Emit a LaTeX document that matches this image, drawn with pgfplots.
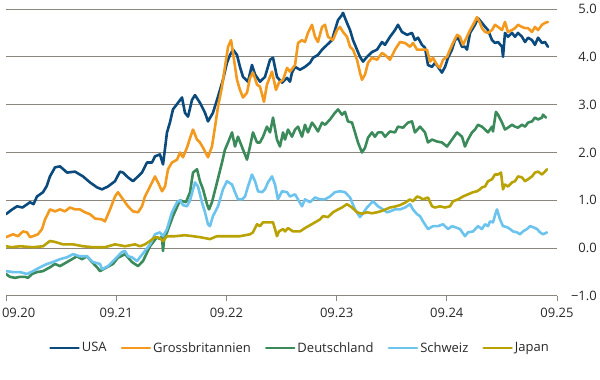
\documentclass[border=0pt]{standalone}
\usepackage{pgfplots}
\pgfplotsset{compat=1.18}
\usepackage{fontspec}
\setmainfont{Open Sans}
\definecolor{usa}{RGB}{11,74,124}
\definecolor{uk}{RGB}{243,154,30}
\definecolor{de}{RGB}{58,138,90}
\definecolor{ch}{RGB}{108,195,238}
\definecolor{jp}{RGB}{185,162,4}
\definecolor{gridc}{RGB}{140,135,126}
\definecolor{txt}{RGB}{40,40,40}
\begin{document}
\begin{tikzpicture}
\useasboundingbox (0,0) rectangle (600bp,380bp);
\begin{axis}[
  at={(6bp,84bp)}, anchor=south west,
  scale only axis, width=551bp, height=287bp,
  xmin=0, xmax=5, ymin=-1, ymax=5,
  axis x line*=bottom, axis y line*=right,
  x axis line style={draw=gridc, line width=1bp},
  y axis line style={draw=none},
  xtick={0,1,2,3,4,5},
  xticklabels={\makebox[0pt][l]{\hspace{-4bp}09.20},09.21,09.22,09.23,09.24,09.25},
  ytick={-1,0,1,2,3,4,5},
  yticklabels={−1.0,0.0,1.0,2.0,3.0,4.0,5.0},
  xtick align=outside, major tick length=5bp,
  xtick style={draw=gridc, line width=1bp},
  ytick style={draw=none},
  ymajorgrids, major grid style={draw=gridc, line width=1bp},
  tick label style={font=\fontsize{13bp}{15bp}\selectfont, text=txt, inner sep=0pt},
  xticklabel style={anchor=center, yshift=-12bp},
  yticklabel style={anchor=east, xshift=40bp},
  /pgf/number format/assume math mode=true,
  legend columns=5,
  legend style={at={(axis description cs:0.5336,-0.181)}, anchor=center, draw=none, fill=none,
    font=\fontsize{13bp}{15bp}\selectfont, text=txt,
    /tikz/every even column/.append style={column sep=12bp}},
  legend image code/.code={\draw[#1, line width=2.6bp] (0bp,0bp) -- (28bp,0bp);},
  every axis plot/.append style={line width=2.6bp, line join=round, line cap=round},
]
\addplot[usa] coordinates {
(0,0.71) (0.05,0.8) (0.1,0.875) (0.15,0.85) (0.218,0.96) (0.25,0.92) (0.281,1.08) (0.336,1.17) (0.37,1.3) (0.399,1.5) (0.445,1.69) (0.49,1.71) (0.52,1.65) (0.554,1.58) (0.626,1.6) (0.699,1.5) (0.762,1.375) (0.808,1.3) (0.826,1.27) (0.871,1.23) (0.926,1.29) (0.989,1.40) (1.034,1.60) (1.062,1.58) (1.107,1.48) (1.152,1.40) (1.189,1.48) (1.234,1.58) (1.279,1.79) (1.325,1.79) (1.352,1.92) (1.397,1.96) (1.425,1.75) (1.461,2.42) (1.488,2.63) (1.515,2.9) (1.561,3.04) (1.597,3.15) (1.624,2.83) (1.652,2.75) (1.688,3.1) (1.715,3.2) (1.76,3.04) (1.806,2.83) (1.833,2.65) (1.878,2.83) (1.924,3.17) (1.969,3.52) (2.005,3.875) (2.033,4.04) (2.06,4.15) (2.096,4.04) (2.123,3.79) (2.151,3.58) (2.196,3.48) (2.232,3.83) (2.26,3.63) (2.305,3.48) (2.35,3.58) (2.396,3.94) (2.423,3.98) (2.459,3.58) (2.505,3.46) (2.55,3.56) (2.577,3.48) (2.595,3.67) (2.623,3.79) (2.668,3.73) (2.713,3.79) (2.759,3.875) (2.786,3.98) (2.831,4.04) (2.868,4.15) (2.913,4.25) (2.958,4.35) (2.985,4.56) (3.013,4.77) (3.049,4.875) (3.058,4.92) (3.094,4.71) (3.122,4.56) (3.149,4.35) (3.185,4.15) (3.212,4.0) (3.24,3.9) (3.276,4.0) (3.321,4.1) (3.367,4.15) (3.412,4.31) (3.439,4.25) (3.485,4.42) (3.53,4.56) (3.557,4.67) (3.593,4.52) (3.639,4.46) (3.684,4.5) (3.711,4.35) (3.739,4.4) (3.775,4.25) (3.802,4.19) (3.829,3.83) (3.866,3.79) (3.893,3.875) (3.92,3.79) (3.956,3.67) (3.984,3.79) (4.011,3.98) (4.047,4.15) (4.074,4.35) (4.102,4.4) (4.138,4.21) (4.165,4.21) (4.183,4.15) (4.211,4.5) (4.256,4.67) (4.283,4.81) (4.319,4.71) (4.347,4.63) (4.374,4.56) (4.41,4.35) (4.437,4.29) (4.465,4.31) (4.501,4.21) (4.51,4.0) (4.528,4.5) (4.555,4.42) (4.592,4.5) (4.619,4.42) (4.646,4.5) (4.682,4.42) (4.71,4.31) (4.737,4.4) (4.773,4.35) (4.8,4.25) (4.828,4.4) (4.864,4.29) (4.891,4.31) (4.918,4.21)
};
\addlegendentry{USA}
\addplot[uk] coordinates {
(0,0.23) (0.064,0.29) (0.109,0.25) (0.154,0.35) (0.191,0.33) (0.218,0.23) (0.245,0.25) (0.29,0.29) (0.327,0.4) (0.354,0.6) (0.399,0.81) (0.445,0.77) (0.49,0.81) (0.535,0.77) (0.581,0.85) (0.626,0.81) (0.671,0.81) (0.717,0.75) (0.762,0.71) (0.808,0.62) (0.871,0.6) (0.898,0.56) (0.944,0.81) (0.989,1.08) (1.016,1.17) (1.062,1.02) (1.107,0.875) (1.152,0.77) (1.198,0.75) (1.234,0.875) (1.261,1.08) (1.307,1.29) (1.352,1.5) (1.379,1.375) (1.416,1.19) (1.443,1.29) (1.47,1.65) (1.506,1.79) (1.552,1.85) (1.579,2.0) (1.606,1.9) (1.642,2.1) (1.67,2.3) (1.697,2.48) (1.733,2.27) (1.76,2.21) (1.788,2.1) (1.833,1.9) (1.869,2.125) (1.897,2.54) (1.924,2.96) (1.96,3.375) (1.987,3.79) (2.015,4.21) (2.042,4.35) (2.06,4.08) (2.096,3.52) (2.123,3.31) (2.151,3.15) (2.187,3.25) (2.214,3.56) (2.241,3.67) (2.278,3.42) (2.305,3.375) (2.341,3.06) (2.368,3.42) (2.414,3.69) (2.45,3.31) (2.477,3.46) (2.514,3.52) (2.55,3.77) (2.577,3.69) (2.623,3.83) (2.65,4.29) (2.686,4.35) (2.713,4.31) (2.74,4.5) (2.777,4.67) (2.804,4.42) (2.831,4.31) (2.868,4.625) (2.895,4.67) (2.922,4.42) (2.967,4.35) (3.004,4.56) (3.031,4.625) (3.058,4.52) (3.094,4.42) (3.122,4.21) (3.149,4.15) (3.185,3.94) (3.212,3.67) (3.23,3.52) (3.258,3.63) (3.285,3.875) (3.321,3.98) (3.367,3.94) (3.412,4.08) (3.439,4.04) (3.485,3.94) (3.53,4.15) (3.575,4.31) (3.621,4.29) (3.666,4.21) (3.693,4.29) (3.73,4.15) (3.775,4.15) (3.82,4.15) (3.848,3.9) (3.875,3.98) (3.911,3.83) (3.938,3.77) (3.966,3.94) (4.002,4.0) (4.029,4.15) (4.056,4.29) (4.093,4.46) (4.12,4.42) (4.147,4.25) (4.183,4.42) (4.211,4.56) (4.238,4.67) (4.274,4.83) (4.301,4.71) (4.319,4.6) (4.347,4.52) (4.374,4.5) (4.41,4.56) (4.437,4.67) (4.465,4.625) (4.501,4.56) (4.528,4.73) (4.555,4.52) (4.592,4.56) (4.619,4.6) (4.646,4.67) (4.682,4.625) (4.71,4.6) (4.737,4.6) (4.773,4.52) (4.8,4.625) (4.828,4.56) (4.864,4.67) (4.891,4.71) (4.918,4.73)
};
\addlegendentry{Grossbritannien}
\addplot[de] coordinates {
(0,-0.54) (0.036,-0.6) (0.082,-0.62) (0.127,-0.6) (0.172,-0.6) (0.2,-0.62) (0.236,-0.54) (0.281,-0.5) (0.336,-0.48) (0.399,-0.4) (0.445,-0.33) (0.49,-0.375) (0.554,-0.29) (0.599,-0.23) (0.644,-0.17) (0.69,-0.23) (0.735,-0.17) (0.78,-0.29) (0.826,-0.4) (0.853,-0.48) (0.898,-0.42) (0.971,-0.33) (1.016,-0.2) (1.08,-0.125) (1.143,-0.29) (1.198,-0.375) (1.243,-0.27) (1.307,0.04) (1.37,0.23) (1.397,0.19) (1.415,0.25) (1.425,-0.06) (1.435,0.2) (1.461,0.33) (1.515,0.67) (1.579,1.0) (1.606,0.98) (1.633,0.96) (1.67,1.17) (1.697,1.58) (1.733,1.65) (1.76,1.4) (1.788,1.23) (1.824,0.92) (1.842,0.81) (1.869,0.96) (1.915,1.375) (1.96,1.79) (1.987,2.06) (2.015,2.21) (2.051,2.42) (2.078,2.125) (2.105,2.33) (2.151,2.06) (2.187,1.85) (2.214,2.125) (2.241,2.42) (2.278,2.21) (2.305,2.21) (2.332,2.33) (2.368,2.54) (2.396,2.42) (2.423,2.73) (2.459,2.27) (2.486,2.125) (2.514,2.42) (2.532,2.27) (2.559,2.48) (2.595,2.33) (2.623,2.48) (2.65,2.54) (2.686,2.33) (2.713,2.58) (2.74,2.42) (2.777,2.625) (2.804,2.54) (2.831,2.44) (2.868,2.625) (2.895,2.58) (2.94,2.69) (2.985,2.83) (3.013,2.9) (3.049,2.79) (3.076,2.85) (3.103,2.65) (3.14,2.625) (3.167,2.42) (3.194,2.21) (3.23,2.0) (3.258,2.1) (3.285,2.31) (3.321,2.42) (3.348,2.33) (3.376,2.42) (3.412,2.42) (3.439,2.33) (3.485,2.44) (3.53,2.42) (3.557,2.54) (3.603,2.52) (3.648,2.625) (3.684,2.65) (3.711,2.42) (3.757,2.54) (3.802,2.42) (3.829,2.21) (3.866,2.27) (3.911,2.23) (3.956,2.21) (4.002,2.125) (4.047,2.27) (4.093,2.42) (4.138,2.33) (4.165,2.125) (4.192,2.27) (4.229,2.42) (4.256,2.48) (4.283,2.58) (4.319,2.54) (4.347,2.48) (4.374,2.42) (4.41,2.54) (4.419,2.44) (4.446,2.85) (4.465,2.79) (4.501,2.625) (4.528,2.48) (4.555,2.52) (4.592,2.58) (4.619,2.54) (4.646,2.52) (4.682,2.58) (4.71,2.54) (4.737,2.625) (4.773,2.65) (4.8,2.73) (4.828,2.69) (4.864,2.73) (4.873,2.79) (4.9,2.73)
};
\addlegendentry{Deutschland}
\addplot[ch] coordinates {
(0,-0.48) (0.064,-0.5) (0.127,-0.5) (0.191,-0.54) (0.245,-0.48) (0.309,-0.4) (0.372,-0.33) (0.426,-0.29) (0.49,-0.23) (0.554,-0.19) (0.608,-0.125) (0.671,-0.17) (0.735,-0.17) (0.789,-0.29) (0.853,-0.33) (0.871,-0.44) (0.926,-0.375) (0.989,-0.23) (1.053,-0.08) (1.08,-0.06) (1.107,-0.17) (1.143,-0.19) (1.189,-0.27) (1.216,-0.19) (1.261,-0.06) (1.307,0.08) (1.352,0.29) (1.397,0.33) (1.425,0.25) (1.461,0.4) (1.506,0.75) (1.552,0.96) (1.579,1.0) (1.606,0.9) (1.642,0.875) (1.67,1.0) (1.715,1.375) (1.742,1.29) (1.778,0.96) (1.806,0.75) (1.833,0.5) (1.851,0.46) (1.878,0.67) (1.924,0.875) (1.969,1.23) (2.005,1.4) (2.051,1.33) (2.078,1.17) (2.105,1.02) (2.142,1.02) (2.169,1.08) (2.196,1.29) (2.232,1.54) (2.26,1.4) (2.287,1.19) (2.323,1.17) (2.35,1.23) (2.377,1.375) (2.414,1.5) (2.441,1.33) (2.468,1.02) (2.505,1.19) (2.55,1.17) (2.577,1.08) (2.623,1.125) (2.65,1.02) (2.686,0.875) (2.713,1.02) (2.759,0.96) (2.804,1.06) (2.849,1.02) (2.895,1.02) (2.94,1.08) (2.985,1.17) (3.031,1.19) (3.076,1.17) (3.122,1.06) (3.167,0.81) (3.212,0.65) (3.23,0.7) (3.276,0.85) (3.33,0.98) (3.376,0.875) (3.421,0.81) (3.457,0.75) (3.485,0.77) (3.53,0.81) (3.575,0.81) (3.621,0.85) (3.666,0.92) (3.693,0.81) (3.73,0.71) (3.757,0.67) (3.784,0.56) (3.829,0.4) (3.875,0.46) (3.92,0.46) (3.966,0.5) (4.011,0.4) (4.047,0.46) (4.074,0.44) (4.12,0.4) (4.165,0.25) (4.192,0.33) (4.238,0.35) (4.283,0.46) (4.319,0.4) (4.347,0.5) (4.374,0.46) (4.392,0.56) (4.419,0.54) (4.446,0.75) (4.456,0.81) (4.483,0.6) (4.51,0.46) (4.546,0.44) (4.574,0.4) (4.601,0.35) (4.637,0.33) (4.664,0.29) (4.691,0.35) (4.728,0.4) (4.755,0.46) (4.782,0.44) (4.819,0.4) (4.846,0.33) (4.873,0.29) (4.909,0.33)
};
\addlegendentry{Schweiz}
\addplot[jp] coordinates {
(0,0.04) (0.05,0.02) (0.127,0.04) (0.245,0.02) (0.336,0.04) (0.399,0.15) (0.445,0.13) (0.517,0.08) (0.608,0.08) (0.699,0.04) (0.789,0.02) (0.853,0.02) (0.898,0.02) (0.989,0.08) (1.08,0.04) (1.171,0.08) (1.216,0.04) (1.261,0.08) (1.307,0.15) (1.352,0.23) (1.397,0.21) (1.425,0.15) (1.461,0.25) (1.534,0.25) (1.624,0.27) (1.697,0.25) (1.76,0.23) (1.851,0.19) (1.915,0.25) (2.033,0.25) (2.123,0.25) (2.214,0.29) (2.241,0.33) (2.278,0.5) (2.305,0.46) (2.332,0.54) (2.396,0.54) (2.423,0.54) (2.441,0.4) (2.459,0.25) (2.477,0.35) (2.514,0.4) (2.532,0.35) (2.559,0.42) (2.605,0.35) (2.668,0.35) (2.713,0.42) (2.759,0.48) (2.804,0.54) (2.849,0.6) (2.877,0.67) (2.922,0.65) (2.967,0.75) (3.013,0.81) (3.049,0.85) (3.094,0.92) (3.14,0.85) (3.185,0.75) (3.23,0.72) (3.276,0.75) (3.321,0.73) (3.367,0.75) (3.412,0.78) (3.485,0.85) (3.53,0.87) (3.575,0.9) (3.621,0.95) (3.666,1.02) (3.693,0.98) (3.73,1.08) (3.757,1.06) (3.784,1.02) (3.829,1.06) (3.866,0.875) (3.893,0.85) (3.938,0.875) (3.984,0.85) (4.029,0.875) (4.056,0.98) (4.102,1.02) (4.147,1.08) (4.192,1.125) (4.238,1.17) (4.274,1.19) (4.301,1.23) (4.319,1.27) (4.347,1.29) (4.374,1.4) (4.41,1.44) (4.437,1.54) (4.465,1.54) (4.492,1.58) (4.51,1.23) (4.528,1.33) (4.555,1.29) (4.592,1.375) (4.619,1.4) (4.646,1.5) (4.682,1.48) (4.71,1.4) (4.737,1.44) (4.773,1.5) (4.8,1.58) (4.828,1.6) (4.864,1.54) (4.891,1.6) (4.909,1.65)
};
\addlegendentry{Japan}
\end{axis}
\end{tikzpicture}
\end{document}
